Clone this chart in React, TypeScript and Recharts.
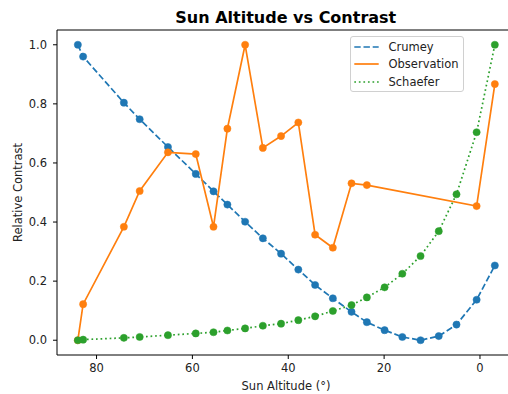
import React from 'react';
import { LineChart, Line, XAxis, YAxis, Legend, ReferenceLine, Customized } from 'recharts';

const altitude = [83.9, 82.8, 74.3, 71.0, 65.1, 59.3, 55.6, 52.7, 49.0, 45.3, 41.5, 37.9, 34.4, 30.7, 26.8, 23.6, 19.9, 16.2, 12.4, 8.6, 4.9, 0.7, -3.1];
const crumey = [1.0, 0.96, 0.804, 0.748, 0.654, 0.563, 0.504, 0.459, 0.401, 0.345, 0.293, 0.239, 0.187, 0.142, 0.096, 0.061, 0.034, 0.011, 0.0, 0.014, 0.053, 0.137, 0.253];
const observation = [0.0, 0.122, 0.384, 0.505, 0.636, 0.63, 0.384, 0.716, 1.0, 0.651, 0.691, 0.737, 0.357, 0.313, 0.531, 0.525, null, null, null, null, null, 0.454, 0.867];
const schaefer = [0.0, 0.002, 0.008, 0.011, 0.017, 0.023, 0.027, 0.033, 0.04, 0.049, 0.056, 0.068, 0.081, 0.099, 0.119, 0.145, 0.179, 0.225, 0.285, 0.369, 0.494, 0.704, 1.0];

const xTicks = [80, 60, 40, 20, 0];
const yTicks = [0, 0.2, 0.4, 0.6, 0.8, 1.0];

const data = altitude.map((x, i) => ({
  x,
  crumey: crumey[i],
  observation: observation[i],
  schaefer: schaefer[i],
}));

const FONT = '"DejaVu Sans", sans-serif';
const BLUE = '#1f77b4';
const ORANGE = '#ff7f0e';
const GREEN = '#2ca02c';
const DASH = '6.4 2.8';
const DOT = '1.7 2.85';

const series = [
  { name: 'Crumey', color: BLUE, dash: DASH },
  { name: 'Observation', color: ORANGE, dash: undefined },
  { name: 'Schaefer', color: GREEN, dash: DOT },
];

const LegendBox = () => (
  <div
    style={{
      width: 114,
      height: 56,
      boxSizing: 'border-box',
      border: '1px solid #d0d0d0',
      borderRadius: 3,
      background: 'rgba(255,255,255,0.8)',
      fontFamily: FONT,
      fontSize: 11.5,
      color: '#222',
      position: 'relative',
    }}
  >
    {series.map((s, i) => (
      <div key={s.name} style={{ position: 'absolute', left: 0, top: 9.7 + i * 17.6 - 9, height: 18, width: 114 }}>
        <svg width={32} height={18} style={{ position: 'absolute', left: 0, top: 0 }}>
          <line x1={3.3} x2={27.7} y1={9} y2={9} stroke={s.color} strokeWidth={1.7} strokeDasharray={s.dash} />
        </svg>
        <span style={{ position: 'absolute', left: 37.5, top: 0, lineHeight: '18px', whiteSpace: 'nowrap' }}>{s.name}</span>
      </div>
    ))}
  </div>
);

const Title = () => (
  <text x={285.8} y={23.3} textAnchor="middle" fontFamily={FONT} fontWeight="bold" fontSize={16} fill="#000">
    Sun Altitude vs Contrast
  </text>
);

const AxisLabels = () => (
  <g>
    <text x={286} y={389.5} textAnchor="middle" fontFamily={FONT} fontSize={11.5} fill="#222">
      Sun Altitude (°)
    </text>
    <text
      x={21.7}
      y={192.5}
      textAnchor="middle"
      fontFamily={FONT}
      fontSize={11.5}
      fill="#222"
      transform="rotate(-90 21.7 192.5)"
    >
      Relative Contrast
    </text>
  </g>
);

export default function App() {
  return (
    <div style={{ position: 'fixed', left: 0, top: 0, width: 508, height: 394, overflow: 'hidden', background: '#fff' }}>
      <LineChart width={520} height={394} data={data} margin={{ top: 30, right: 4.5, bottom: 0, left: 0 }}>
        <XAxis
          type="number"
          dataKey="x"
          domain={[-7.41, 88.25]}
          reversed
          allowDataOverflow
          ticks={xTicks}
          height={39}
          tickSize={4}
          tickMargin={5}
          stroke="#000"
          tick={{ fill: '#222', fontFamily: FONT, fontSize: 11.5 }}
          tickLine={{ stroke: '#000' }}
          axisLine={{ stroke: '#000' }}
        />
        <YAxis
          type="number"
          domain={[-0.05, 1.05]}
          allowDataOverflow
          ticks={yTicks}
          width={57}
          tickSize={4}
          tickMargin={6}
          tickFormatter={(v: number) => v.toFixed(1)}
          tick={{ fill: '#222', fontFamily: FONT, fontSize: 11.5 }}
          tickLine={{ stroke: '#000' }}
          axisLine={{ stroke: '#000' }}
        />
        <ReferenceLine y={1.05} stroke="#000" strokeWidth={1} ifOverflow="visible" />
        <Line
          dataKey="crumey"
          name="Crumey"
          stroke={BLUE}
          strokeWidth={1.7}
          strokeDasharray={DASH}
          dot={{ r: 3.6, fill: BLUE, stroke: BLUE, strokeWidth: 0.5, strokeDasharray: '' }}
          activeDot={false}
          isAnimationActive={false}
        />
        <Line
          dataKey="observation"
          name="Observation"
          stroke={ORANGE}
          strokeWidth={1.7}
          connectNulls
          dot={{ r: 3.6, fill: ORANGE, stroke: ORANGE, strokeWidth: 0.5 }}
          activeDot={false}
          isAnimationActive={false}
        />
        <Line
          dataKey="schaefer"
          name="Schaefer"
          stroke={GREEN}
          strokeWidth={1.7}
          strokeDasharray={DOT}
          dot={{ r: 3.6, fill: GREEN, stroke: GREEN, strokeWidth: 0.5, strokeDasharray: '' }}
          activeDot={false}
          isAnimationActive={false}
        />
        <Legend
          layout="horizontal"
          verticalAlign="middle"
          align="center"
          content={() => <LegendBox />}
          wrapperStyle={{ position: 'absolute', left: 350, top: 36, width: 114, height: 56 }}
        />
        <Customized component={Title} />
        <Customized component={AxisLabels} />
      </LineChart>
    </div>
  );
}
